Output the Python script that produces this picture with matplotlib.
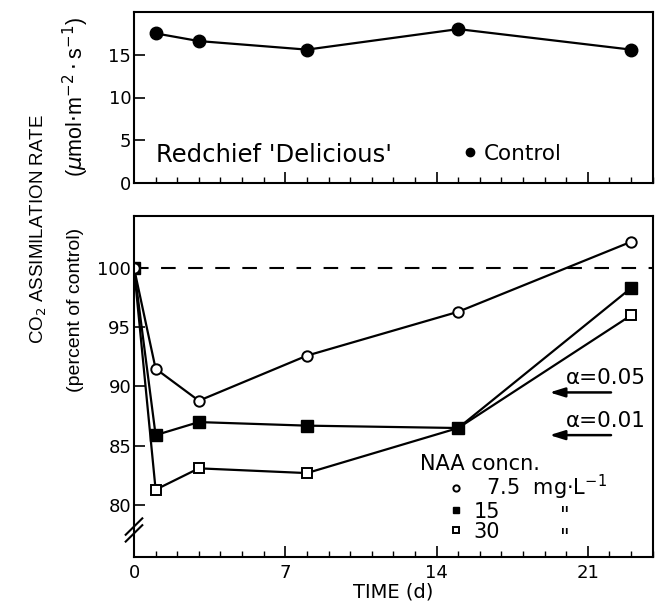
import matplotlib
matplotlib.use("Agg")
import matplotlib.pyplot as plt
from matplotlib.lines import Line2D
from matplotlib.ticker import MultipleLocator

plt.rcParams['font.family'] = ['DejaVu Sans']
plt.rcParams['mathtext.fontset'] = 'dejavusans'

# ---- data ----
control_days = [1, 3, 8, 15, 23]
control_rate = [17.5, 16.6, 15.6, 18.0, 15.6]

naa_days = [0, 1, 3, 8, 15, 23]
naa_7_5 = [100, 91.5, 88.8, 92.6, 96.3, 102.2]
naa_15 = [100, 85.9, 87.0, 86.7, 86.5, 98.3]
naa_30 = [100, 81.3, 83.1, 82.7, 86.5, 96.0]

alpha_levels = ["α=0.05", "α=0.01"]
alpha_values = [89.5, 85.9]

x_ticks = [0, 7, 14, 21]
top_yticks = [0, 5, 10, 15]
bottom_yticks = [80, 85, 90, 95, 100]

W, H = 659, 608
fig = plt.figure(figsize=(W / 100, H / 100), dpi=100)

def fx(px):
    return px / W

def fy(py):
    return 1 - py / H

L, R = 134, 652.7
ax1 = fig.add_axes([fx(L), fy(183), fx(R - L), (183 - 12) / H])
ax2 = fig.add_axes([fx(L), fy(557.3), fx(R - L), (557.3 - 215.7) / H])

for ax in (ax1, ax2):
    ax.set_xlim(0, 24)
    ax.xaxis.set_major_locator(MultipleLocator(7))
    ax.xaxis.set_minor_locator(MultipleLocator(1))
    ax.tick_params(axis='both', which='major', direction='in', length=8,
                   width=1.2, labelsize=13, top=False, right=False)
    ax.tick_params(axis='y', which='major', pad=2)
    ax.tick_params(axis='x', which='major', pad=5)
    ax.tick_params(axis='x', which='minor', direction='in', length=4,
                   width=1.0, top=False)
    for s in ax.spines.values():
        s.set_linewidth(1.5)

# ---- top panel ----
ax1.set_ylim(0, 20)
ax1.set_yticks(top_yticks)
ax1.tick_params(axis='x', labelbottom=False)
ax1.plot(control_days, control_rate, '-o', color='black', lw=1.6,
         markersize=9, markerfacecolor='black')
ax1.text(1.0, 3.3, "Redchief 'Delicious'", fontsize=17.5, va='center',
         ha='left')
h_ctrl = Line2D([], [], marker='o', color='black', linestyle='none',
                markersize=6)
ax1.legend([h_ctrl], ['Control'], loc='center left',
           bbox_to_anchor=(0.614, 0.17), frameon=False, fontsize=15.5,
           handlelength=0.6, handletextpad=0.35, borderpad=0)

# ---- bottom panel ----
ax2.set_ylim(75.6, 104.4)
ax2.set_yticks(bottom_yticks)
ax2.set_xticks(x_ticks)
ax2.axhline(100, color='black', lw=1.5, dashes=(7, 6))
ax2.plot(naa_days, naa_30, '-s', color='black', lw=1.6, markersize=6.5,
         markerfacecolor='white', markeredgewidth=1.4)
ax2.plot(naa_days, naa_15, '-s', color='black', lw=1.6, markersize=8,
         markerfacecolor='black')
ax2.plot(naa_days, naa_7_5, '-o', color='black', lw=1.6, markersize=7.5,
         markerfacecolor='white', markeredgewidth=1.4)

for lab, val in zip(alpha_levels, alpha_values):
    ax2.annotate('', xy=(19.1, val), xytext=(22.2, val),
                 arrowprops=dict(arrowstyle='-|>,head_length=0.9,head_width=0.28',
                                 color='black', lw=1.8))
    ax2.text(20.0, val + 1.2, lab, fontsize=15.5, ha='left', va='center')

# legend block
ax2.text(13.23, 83.5, 'NAA concn.', fontsize=15, ha='left', va='center')
h_o = Line2D([], [], marker='o', color='black', linestyle='none',
             markersize=4.5, markerfacecolor='white', markeredgewidth=1.4)
h_f = Line2D([], [], marker='s', color='black', linestyle='none',
             markersize=4.5, markerfacecolor='black')
h_s = Line2D([], [], marker='s', color='black', linestyle='none',
             markersize=4.5, markerfacecolor='white', markeredgewidth=1.4)
ax2.legend([h_o, h_f, h_s],
           [r'  7.5  mg$\cdot$L$^{-1}$', '15', '30'],
           loc='center left', bbox_to_anchor=(0.590, 0.147), frameon=False,
           fontsize=15, handlelength=0.5, handletextpad=0.6,
           labelspacing=0.0, borderpad=0)
for yv in (79.1, 77.2):
    ax2.text(19.94, yv, '"', fontsize=15, ha='center', va='center')

# axis break marks
for dy in (0.0, -0.02):
    ax2.plot([-0.016, 0.016], [0.066 + dy, 0.114 + dy], color='black',
             lw=1.5, transform=ax2.transAxes, clip_on=False)

# ---- labels ----
ax2.set_xlabel('TIME (d)', fontsize=14, labelpad=0)
fig.text(fx(39), fy(229), r'CO$_2$ ASSIMILATION RATE', rotation=90,
         fontsize=13.5, ha='center', va='center', family='Liberation Sans',
         math_fontfamily='dejavusans')
fig.text(fx(76), fy(97), r'($\mu$mol$\cdot$m$^{-2}\cdot$s$^{-1}$)',
         rotation=90, fontsize=15.5, ha='center', va='center',
         family='Liberation Sans')
fig.text(fx(75), fy(310), '(percent of control)', rotation=90,
         fontsize=14, ha='center', va='center', family='Liberation Sans')

fig.savefig('out.png', dpi=100)
